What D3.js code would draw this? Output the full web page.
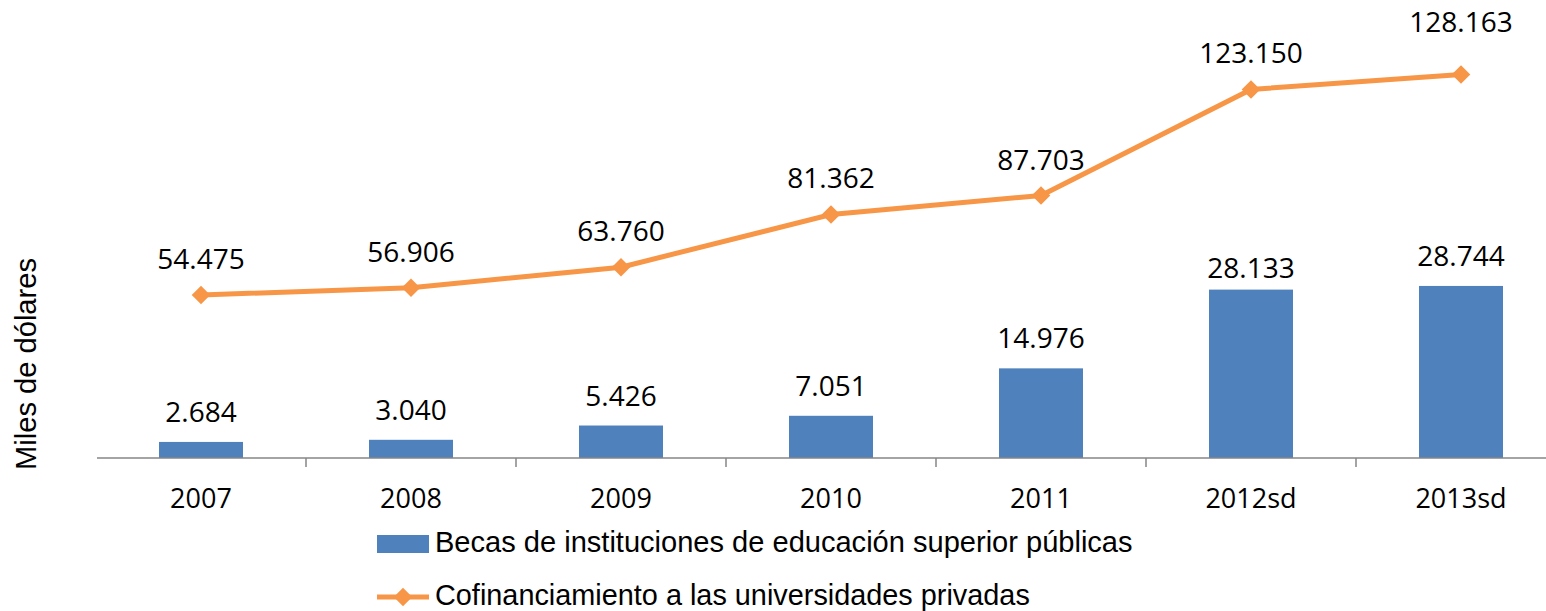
<!DOCTYPE html>
<html>
<head>
<meta charset="utf-8">
<script src="https://cdn.jsdelivr.net/npm/d3@7"></script>
<style>
  html, body { margin: 0; padding: 0; background: #fff; }
  svg { display: block; }
</style>
</head>
<body>
<svg id="chart" width="1546" height="611"></svg>
<script>
// datos
var years = ["2007", "2008", "2009", "2010", "2011", "2012sd", "2013sd"];
var becas = [2.684, 3.040, 5.426, 7.051, 14.976, 28.133, 28.744];
var cofinanciamiento = [54.475, 56.906, 63.760, 81.362, 87.703, 123.150, 128.163];
var seriesNames = [
    "Becas de instituciones de educación superior públicas",
    "Cofinanciamiento a las universidades privadas"
];
var yTitle = "Miles de dólares";

var colors = { bar: "#4F81BD", line: "#F79646", axis: "#868686" };
var numFont = "'Open Sans', sans-serif";
var txtFont = "'Liberation Sans', Arial, sans-serif";

// formato 2.684 con punto de miles
function fmt(v) {
    return v.toFixed(3);
}

var svg = d3.select("#chart");
var baseY = 458;

var x = d3.scaleBand()
    .domain(years)
    .range([96, 1566])
    .paddingInner(0.6)
    .paddingOuter(0.3);
var step = x.step();

// eje principal (barras) y secundario (linea)
var yBar = d3.scaleLinear().domain([0, 70]).range([baseY, 39]);
var yLine = d3.scaleLinear().domain([0, 140]).range([baseY, 39]);

function cx(d) { return x(d) + x.bandwidth() / 2; }

// barras
svg.append("g").selectAll("rect")
    .data(years)
    .enter()
    .append("rect")
    .attr("x", function (d) { return x(d); })
    .attr("width", x.bandwidth())
    .attr("y", function (d, i) { return yBar(becas[i]); })
    .attr("height", function (d, i) { return baseY - yBar(becas[i]); })
    .attr("fill", colors.bar);

// eje x
var axis = svg.append("g");
axis.append("line")
    .attr("x1", 97).attr("x2", 1546)
    .attr("y1", baseY).attr("y2", baseY)
    .attr("stroke", colors.axis).attr("stroke-width", 1.5);
axis.selectAll("line.tick")
    .data(years.slice(0, -1))
    .enter()
    .append("line")
    .attr("class", "tick")
    .attr("x1", function (d) { return cx(d) + step / 2; })
    .attr("x2", function (d) { return cx(d) + step / 2; })
    .attr("y1", baseY).attr("y2", baseY + 9)
    .attr("stroke", colors.axis).attr("stroke-width", 1.5);
axis.selectAll("text")
    .data(years)
    .enter()
    .append("text")
    .attr("x", cx)
    .attr("y", 508)
    .attr("text-anchor", "middle")
    .attr("font-family", numFont)
    .attr("font-size", 27)
    .attr("fill", "#000")
    .text(function (d) { return d; });

// linea
var line = d3.line()
    .x(function (d, i) { return cx(years[i]); })
    .y(function (d) { return yLine(d); });

svg.append("path")
    .datum(cofinanciamiento)
    .attr("d", line)
    .attr("fill", "none")
    .attr("stroke", colors.line)
    .attr("stroke-width", 5);

var diamond = d3.symbol().type(d3.symbolDiamond2).size(220);
svg.append("g").selectAll("path")
    .data(cofinanciamiento)
    .enter()
    .append("path")
    .attr("d", diamond)
    .attr("transform", function (d, i) {
        return "translate(" + cx(years[i]) + "," + yLine(d) + ")";
    })
    .attr("fill", colors.line);

// etiquetas de datos (algunas movidas a mano en el original)
var barNudge = { "2012sd": 8 };
var lineNudge = { "2013sd": -16 };

svg.append("g").selectAll("text")
    .data(becas)
    .enter()
    .append("text")
    .attr("x", function (d, i) { return cx(years[i]); })
    .attr("y", function (d, i) { return yBar(d) - 20 + (barNudge[years[i]] || 0); })
    .attr("text-anchor", "middle")
    .attr("font-family", numFont)
    .attr("font-size", 28)
    .attr("fill", "#000")
    .text(fmt);

svg.append("g").selectAll("text")
    .data(cofinanciamiento)
    .enter()
    .append("text")
    .attr("x", function (d, i) { return cx(years[i]); })
    .attr("y", function (d, i) { return yLine(d) - 26 + (lineNudge[years[i]] || 0); })
    .attr("text-anchor", "middle")
    .attr("font-family", numFont)
    .attr("font-size", 28)
    .attr("fill", "#000")
    .text(fmt);

// ajusta tamaño de letra a un ancho dado
function fitText(sel, width, size) {
    sel.attr("font-size", size);
    var w = sel.node().getComputedTextLength();
    sel.attr("font-size", size * width / w);
}

// titulo eje y
var yt = svg.append("text")
    .attr("transform", "translate(36,364) rotate(-90)")
    .attr("text-anchor", "middle")
    .attr("font-family", txtFont)
    .attr("fill", "#000")
    .text(yTitle);
fitText(yt, 212, 26);

// leyenda
var legend = svg.append("g");
legend.append("rect")
    .attr("x", 377).attr("y", 535)
    .attr("width", 52).attr("height", 18)
    .attr("fill", colors.bar);
var l1 = legend.append("text")
    .attr("x", 435).attr("y", 552)
    .attr("font-family", txtFont)
    .attr("fill", "#000")
    .text(seriesNames[0]);
fitText(l1, 698, 25);

legend.append("line")
    .attr("x1", 377).attr("x2", 429)
    .attr("y1", 597).attr("y2", 597)
    .attr("stroke", colors.line).attr("stroke-width", 5);
legend.append("path")
    .attr("d", diamond)
    .attr("transform", "translate(403,597)")
    .attr("fill", colors.line);
var l2 = legend.append("text")
    .attr("x", 435).attr("y", 605)
    .attr("font-family", txtFont)
    .attr("fill", "#000")
    .text(seriesNames[1]);
fitText(l2, 595, 25);
</script>
</body>
</html>
